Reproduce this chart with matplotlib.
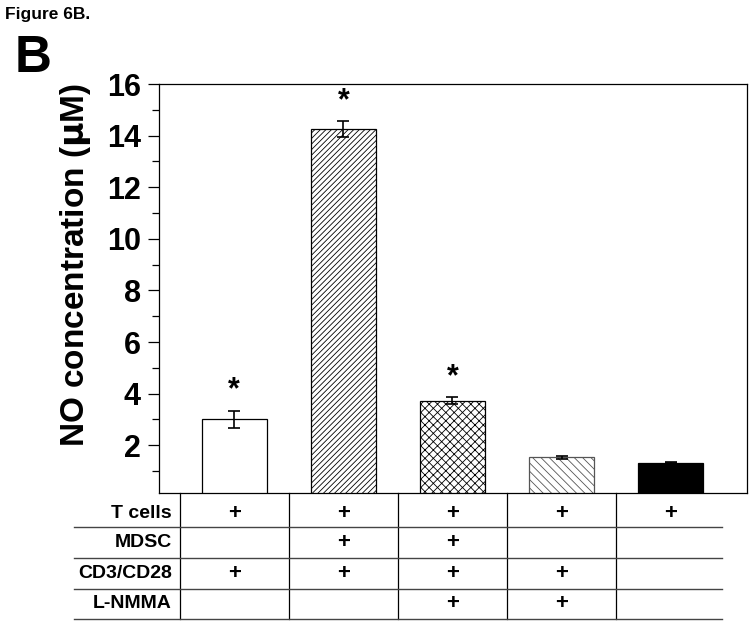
import numpy as np
import matplotlib
matplotlib.use('Agg')
import matplotlib.pyplot as plt
from matplotlib.ticker import MultipleLocator
import matplotlib.transforms as mtrans

plt.rcParams['font.family'] = ['Liberation Sans', 'DejaVu Sans']
plt.rcParams['font.weight'] = 'bold'
plt.rcParams['hatch.linewidth'] = 0.6

# -- data
no_conc = [3.01, 14.25, 3.73, 1.53, 1.32]
no_err = [0.33, 0.30, 0.13, 0.06, 0.02]
signif = [True, True, True, False, False]
row_names = ['T cells', 'MDSC', 'CD3/CD28', 'L-NMMA']
row_plus = [[1, 1, 1, 1, 1],
            [0, 1, 1, 0, 0],
            [1, 1, 1, 1, 0],
            [0, 0, 1, 1, 0]]
hatches = ['', '//////', 'xxxx', '\\\\\\\\', '']
faces = ['white', 'white', 'white', 'white', 'black']
edges = ['black', 'black', 'black', '#555555', 'black']

fig = plt.figure(figsize=(7.53, 6.25), dpi=100)
ax = fig.add_axes([0.2112, 0.2112, 0.7808, 0.6544])

x = np.arange(len(no_conc))
for i in x:
    ax.bar(x[i], no_conc[i], width=0.6, bottom=0, color=faces[i], edgecolor=edges[i],
           hatch=hatches[i], linewidth=0.9, zorder=2)
ax.errorbar(x, no_conc, yerr=no_err, fmt='none', ecolor='black', elinewidth=1.2,
            capsize=4, capthick=1.2, zorder=3)
for i in x:
    if signif[i]:
        ax.text(x[i], no_conc[i] + no_err[i] + 0.78, '*', ha='center', va='center',
                fontsize=22, fontweight='bold')

ax.set_xlim(-0.69, 4.7)
ax.set_ylim(0.15, 16)
ax.yaxis.set_minor_locator(MultipleLocator(1))
ax.set_yticks([2, 4, 6, 8, 10, 12, 14, 16])
ax.tick_params(axis='y', which='major', length=8, width=0.9, labelsize=22, pad=5)
ax.tick_params(axis='y', which='minor', length=5, width=0.9)
for lab in ax.get_yticklabels():
    lab.set_fontweight('bold')
ax.set_xticks([])
for s in ax.spines.values():
    s.set_linewidth(0.9)
ax.set_ylabel(r'NO concentration ($\mathbf{\mu}$M)', fontsize=24, fontweight='bold')
ax.yaxis.set_label_coords(-0.113, 0.557)

# -- treatment table under the axis
tr = mtrans.blended_transform_factory(ax.transData, ax.transAxes)
row_y = [-0.049, -0.122, -0.196, -0.271]
line_y = [-0.083, -0.159, -0.235, -0.308]
for xb in [-0.5, 0.5, 1.5, 2.5, 3.5]:
    ax.plot([xb, xb], [0, line_y[-1]], color='black', lw=0.9, transform=tr, clip_on=False)
for ly in line_y:
    ax.plot([-1.47, 4.47], [ly, ly], color='#444444', lw=1.0, transform=tr, clip_on=False)
for r, name in enumerate(row_names):
    ax.text(-0.57, row_y[r], name, ha='right', va='center', fontsize=14,
            fontweight='bold', transform=tr)
    for c in range(len(no_conc)):
        if row_plus[r][c]:
            ax.text(x[c], row_y[r], '+', ha='center', va='center', fontsize=16,
                    fontweight='bold', transform=tr)

fig.text(0.007, 0.977, 'Figure 6B.', fontsize=12.5, fontweight='bold', va='center')
fig.text(0.02, 0.906, 'B', fontsize=37, fontweight='bold', va='center')

fig.savefig('out.png', dpi=100)
